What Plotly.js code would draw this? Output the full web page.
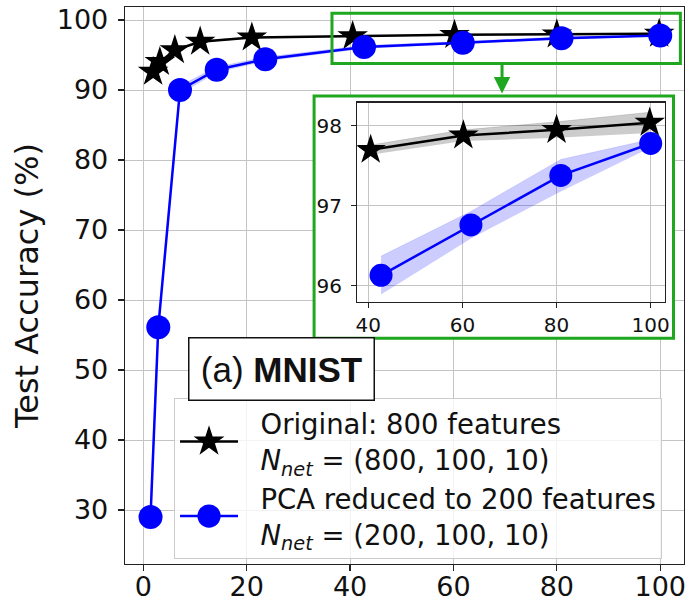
<!DOCTYPE html>
<html>
<head>
<meta charset="utf-8">
<script src="https://cdn.plot.ly/plotly-3.0.1.min.js"></script>
<style>
  html, body { margin: 0; padding: 0; background: #fff; }
  #chart { width: 689px; height: 606px; }
</style>
</head>
<body>
<div id="chart"></div>
<script>
// Original 800-feature network: accuracy (%) vs. x, with spread
const origX   = [1.9, 3.2, 6.1, 11.0, 21.0, 40.5, 60.2, 80.0, 99.8];
const origY   = [92.6, 94.0, 95.7, 96.9, 97.5, 97.70, 97.88, 97.95, 98.04];
const origErr = [0.30, 0.25, 0.20, 0.15, 0.10, 0.06, 0.07, 0.10, 0.13];

// PCA-reduced 200-feature network
const pcaX   = [1.4, 2.9, 7.1, 14.2, 23.6, 42.7, 61.8, 80.9, 100.0];
const pcaY   = [29.0, 56.1, 90.0, 92.9, 94.4, 96.13, 96.76, 97.38, 97.78];
const pcaErr = [3.0, 1.2, 0.6, 0.4, 0.3, 0.24, 0.17, 0.20, 0.05];

// Tick values
const xTicks      = [0, 20, 40, 60, 80, 100];
const yTicks      = [30, 40, 50, 60, 70, 80, 90, 100];
const insetXTicks = [40, 60, 80, 100];
const insetYTicks = [96, 97, 98];

// the zoomed inset shows the points from x = 40 onward
const INSET_FROM = 5;

const origName = '&nbsp;&nbsp;Original: 800 features<br>&nbsp;&nbsp;<i>N</i><sub><i>net</i></sub> = (800, 100, 10)';
const pcaName  = '&nbsp;&nbsp;PCA reduced to 200 features<br>&nbsp;&nbsp;<i>N</i><sub><i>net</i></sub> = (200, 100, 10)';

const FONT = 'DejaVu Sans, sans-serif';
const GREEN = '#1fa81f';

const lower = (y, e) => y.map((v, i) => v - e[i]);
const upper = (y, e) => y.map((v, i) => v + e[i]);

// band + line traces for one series on one pair of axes
function series(x, y, err, color, fill, symbol, size, name, xa, ya, legend) {
  return [
    { x: x, y: lower(y, err), xaxis: xa, yaxis: ya, mode: 'lines',
      line: { width: 0, color: color }, showlegend: false, hoverinfo: 'skip' },
    { x: x, y: upper(y, err), xaxis: xa, yaxis: ya, mode: 'lines', fill: 'tonexty',
      fillcolor: fill, line: { width: 0.6, color: fill }, showlegend: false, hoverinfo: 'skip' },
    { x: x, y: y, xaxis: xa, yaxis: ya, mode: 'lines+markers', name: name,
      showlegend: legend,
      line: { color: color, width: 2.5 },
      marker: { symbol: symbol, size: size, color: color } }
  ];
}

const s = a => a.slice(INSET_FROM);

const data = [].concat(
  series(origX, origY, origErr, 'black', 'rgba(0,0,0,0.2)', 'star', 23, origName, 'x', 'y', true),
  series(pcaX, pcaY, pcaErr, 'blue', 'rgba(0,0,255,0.2)', 'circle', 24, pcaName, 'x', 'y', true),
  series(s(origX), s(origY), s(origErr), 'black', 'rgba(0,0,0,0.2)', 'star', 23, origName, 'x2', 'y2', false),
  series(s(pcaX), s(pcaY), s(pcaErr), 'blue', 'rgba(0,0,255,0.2)', 'circle', 23, pcaName, 'x2', 'y2', false)
);

const axisCommon = {
  showline: true, mirror: true, linecolor: '#222', linewidth: 1.3,
  ticks: 'outside', ticklen: 6, tickwidth: 1.2, tickcolor: '#222',
  showgrid: true, gridcolor: '#c4c4c4', gridwidth: 1, zeroline: false,
  tickfont: { family: FONT, size: 27, color: '#111' }
};

const layout = {
  width: 689, height: 606,
  margin: { l: 125, r: 5, t: 7, b: 42 },
  paper_bgcolor: '#fff', plot_bgcolor: '#fff',
  font: { family: FONT, color: '#111' },
  xaxis: Object.assign({}, axisCommon, {
    range: [-3.54, 104.6], tickmode: 'array', tickvals: xTicks, ticklabelstandoff: -8
  }),
  yaxis: Object.assign({}, axisCommon, {
    range: [22.29, 101.86], tickmode: 'array', tickvals: yTicks, ticklabelstandoff: 4,
    title: { text: 'Test Accuracy (%)', font: { family: FONT, size: 32, color: '#111' }, standoff: 8 }
  }),
  xaxis2: Object.assign({}, axisCommon, {
    domain: [0.4156, 0.966], anchor: 'y2', range: [37.66, 103.04],
    tickmode: 'array', tickvals: insetXTicks, ticklen: 5,
    tickfont: { family: FONT, size: 20, color: '#111' }
  }),
  yaxis2: Object.assign({}, axisCommon, {
    domain: [0.4709, 0.8282], anchor: 'x2', range: [95.8, 98.29],
    tickmode: 'array', tickvals: insetYTicks, ticklen: 5, ticklabelstandoff: 5,
    tickfont: { family: FONT, size: 20, color: '#111' }
  }),
  showlegend: true,
  legend: {
    x: 0.0877, y: 0.2975, xanchor: 'left', yanchor: 'top',
    bgcolor: 'rgba(255,255,255,0.8)', bordercolor: '#cccccc', borderwidth: 1,
    font: { family: FONT, size: 27.5, color: '#111' },
    itemwidth: 58, traceorder: 'normal', valign: 'middle'
  },
  shapes: [
    // highlighted region in the main axes
    { type: 'rect', xref: 'x', yref: 'y', x0: 36.5, x1: 103.9, y0: 93.8, y1: 100.96,
      line: { color: GREEN, width: 3 }, layer: 'above' },
    // frame around the zoomed inset
    { type: 'rect', xref: 'x', yref: 'y', x0: 33.04, x1: 102.57, y0: 54.53, y1: 89.14,
      line: { color: GREEN, width: 3 }, fillcolor: '#fff', layer: 'between' }
  ],
  annotations: [
    { xref: 'x', yref: 'y', x: 69.4, y: 89.5, ax: 0, ay: -30, text: '',
      showarrow: true, arrowhead: 2, arrowsize: 1.1, arrowwidth: 3, arrowcolor: GREEN },
    { xref: 'paper', yref: 'paper', x: 0.2791, y: 0.3495, xanchor: 'center', yanchor: 'middle',
      text: '(a) <b>MNIST</b>', showarrow: false,
      font: { family: 'Liberation Sans, Arial, sans-serif', size: 35, color: '#111' },
      bgcolor: '#fff', bordercolor: '#111', borderwidth: 1.5, borderpad: 0,
      width: 184, height: 61 }
  ]
};

Plotly.newPlot('chart', data, layout, { displayModeBar: false, staticPlot: true }).then(gd => {
  // enlarge the legend symbols to the size used on the plot
  gd.querySelectorAll('.legend .legendpoints path.scatterpts').forEach(p => {
    const t = p.getAttribute('transform') || '';
    p.setAttribute('transform', t + ' scale(1.45)');
  });
});
</script>
</body>
</html>
